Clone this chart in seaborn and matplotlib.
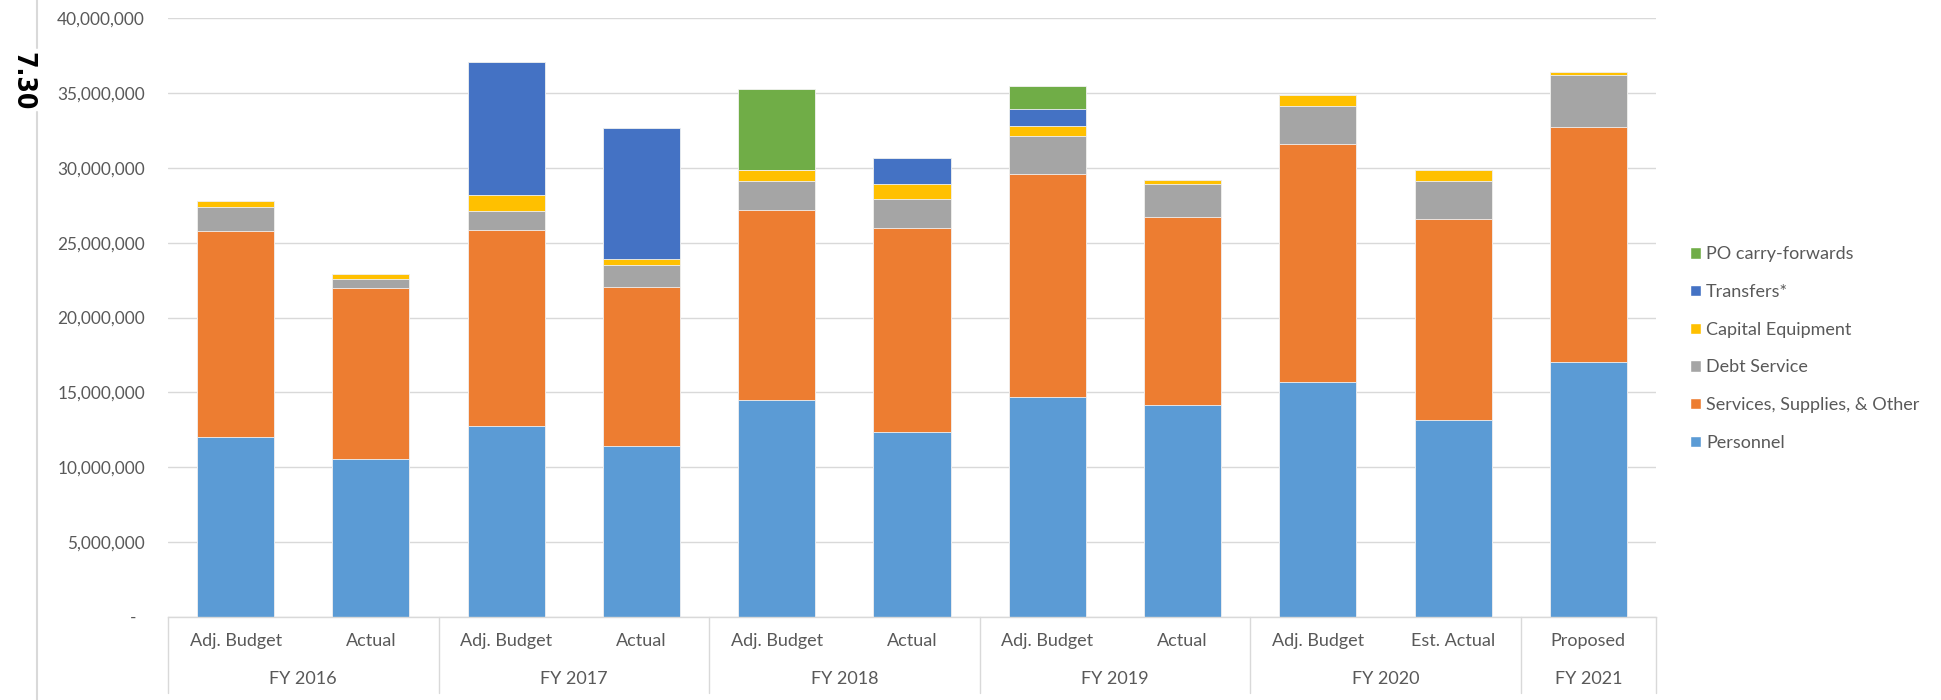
import numpy as np
import pandas as pd
import matplotlib
matplotlib.use("Agg")
import matplotlib.pyplot as plt
import seaborn as sns
from matplotlib.lines import Line2D
from matplotlib.patches import Patch
from matplotlib.ticker import FuncFormatter, MultipleLocator

sns.set_theme(style="white")
plt.rcParams["font.family"] = ["Lato", "DejaVu Sans"]

# ---- data -------------------------------------------------------------
fiscal_years = ["FY 2016", "FY 2016", "FY 2017", "FY 2017", "FY 2018", "FY 2018",
                "FY 2019", "FY 2019", "FY 2020", "FY 2020", "FY 2021"]
stages = ["Adj. Budget", "Actual", "Adj. Budget", "Actual", "Adj. Budget", "Actual",
          "Adj. Budget", "Actual", "Adj. Budget", "Est. Actual", "Proposed"]

personnel = [12_030_000, 10_540_000, 12_770_000, 11_410_000, 14_490_000, 12_370_000,
             14_710_000, 14_160_000, 15_690_000, 13_150_000, 17_030_000]
services = [13_780_000, 11_450_000, 13_100_000, 10_620_000, 12_720_000, 13_610_000,
            14_910_000, 12_560_000, 15_940_000, 13_460_000, 15_710_000]
debt_service = [1_580_000, 580_000, 1_230_000, 1_470_000, 1_920_000, 1_940_000,
                2_520_000, 2_230_000, 2_500_000, 2_500_000, 3_460_000]
capital_equipment = [400_000, 310_000, 1_070_000, 400_000, 740_000, 990_000,
                     630_000, 220_000, 740_000, 730_000, 210_000]
transfers = [0, 0, 8_930_000, 8_740_000, 0, 1_740_000, 1_160_000, 0, 0, 0, 0]
po_carry_forwards = [0, 0, 0, 0, 5_380_000, 0, 1_520_000, 0, 0, 0, 0]

series_names = ["Personnel", "Services, Supplies, & Other", "Debt Service",
                "Capital Equipment", "Transfers*", "PO carry-forwards"]
series_values = [personnel, services, debt_service, capital_equipment,
                 transfers, po_carry_forwards]
series_colors = ["#5B9BD5", "#ED7D31", "#A5A5A5", "#FFC000", "#4472C4", "#70AD47"]

# ---- figure -----------------------------------------------------------
W, H = 1941, 700
fig = plt.figure(figsize=(W / 100, H / 100), dpi=100)
ax = fig.add_axes([168 / W, 1 - 616.7 / H, (1656 - 168) / W, (616.7 - 18.3) / H])

bar_ids = [f"{fy} {st}" for fy, st in zip(fiscal_years, stages)]
df = pd.DataFrame({name: vals for name, vals in zip(series_names, series_values)})
df["bar"] = bar_ids
cumulative = df[series_names].cumsum(axis=1)

# stacked bars: draw running totals from the top layer down
for name, color in reversed(list(zip(series_names, series_colors))):
    sns.barplot(x=df["bar"], y=cumulative[name], color=color, width=0.57,
                saturation=1, errorbar=None, ax=ax, edgecolor="#F2F2F2",
                linewidth=0.6, zorder=3)

ax.set_xlim(-0.5, len(bar_ids) - 0.5)
ax.set_ylim(0, 40_000_000)
ax.yaxis.set_major_locator(MultipleLocator(5_000_000))
ax.yaxis.set_major_formatter(FuncFormatter(lambda v, p: "-  " if v == 0 else f"{v:,.0f}"))
ax.grid(axis="y", color="#D9D9D9", linewidth=1.0)
ax.set_axisbelow(True)
for side in ["top", "right", "left"]:
    ax.spines[side].set_visible(False)
ax.spines["bottom"].set_color("#D9D9D9")
ax.spines["bottom"].set_linewidth(1.0)
ax.spines["bottom"].set_zorder(4)
ax.tick_params(axis="y", length=0, pad=16.6, labelsize=12.4, labelcolor="#595959")
ax.set_xticks(range(len(bar_ids)))
ax.set_xticklabels([])
ax.tick_params(axis="x", length=0)
ax.set_xlabel("")
ax.set_ylabel("")

# two-level category axis
trans = ax.get_xaxis_transform()
for i, st in enumerate(stages):
    ax.text(i, -0.0406, st, transform=trans, ha="center", va="center",
            fontsize=13, color="#595959")

runs = []
start = 0
for i in range(1, len(fiscal_years) + 1):
    if i == len(fiscal_years) or fiscal_years[i] != fiscal_years[start]:
        runs.append((fiscal_years[start], start, i - 1))
        start = i
bounds = [-0.5] + [end + 0.5 for _, _, end in runs]
for fy, s, e in runs:
    ax.text((s + e) / 2, -0.104, fy, transform=trans, ha="center", va="center",
            fontsize=13, color="#595959")
for b in bounds:
    ax.plot([b, b], [0, -0.127], transform=trans, clip_on=False,
            color="#D9D9D9", linewidth=1.0)

# page number and margin rule
fig.text(22 / W, 1 - 81 / H, "7.30", rotation=270, ha="center", va="center",
         fontsize=19, fontweight="bold", fontstretch="condensed", color="black",
         family=["Liberation Sans Narrow", "DejaVu Sans"])
fig.add_artist(Line2D([36.7 / W] * 2, [1, 1 - 48 / H], color="#D9D9D9", linewidth=1.5))
fig.add_artist(Line2D([36.7 / W] * 2, [1 - 112 / H, 0], color="#D9D9D9", linewidth=1.5))

# legend
handles = [Patch(facecolor=c) for c in reversed(series_colors)]
labels = list(reversed(series_names))
fig.legend(handles, labels, loc="center left",
           bbox_to_anchor=(1690 / W, 1 - 348.5 / H), frameon=False,
           fontsize=13, labelcolor="#595959", handlelength=0.6, handleheight=0.6,
           handletextpad=0.3, labelspacing=1.2, borderpad=0, borderaxespad=0)

fig.savefig("out.png", dpi=100)
